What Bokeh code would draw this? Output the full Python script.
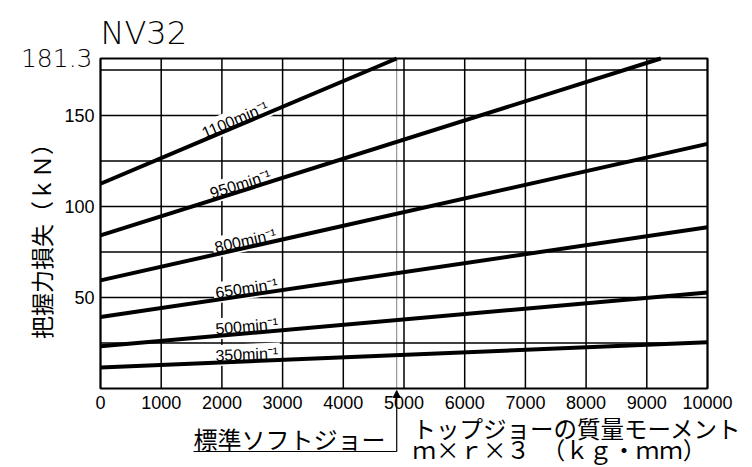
import math
from bokeh.plotting import figure
from bokeh.models import Label, Arrow, NormalHead, FixedTicker, Range1d
from bokeh.embed import file_html
from bokeh.resources import INLINE

# ---- data ----
rpm = [350, 500, 650, 800, 950, 1100]
curve_labels = ["350min⁻¹", "500min⁻¹", "650min⁻¹", "800min⁻¹", "950min⁻¹", "1100min⁻¹"]
x_start = [0, 0, 0, 0, 0, 0]
y_start = [11.6, 23.2, 39.3, 59.4, 84.1, 112.5]
x_end = [10000, 10000, 10000, 10000, 9230, 4880]
y_end = [25.4, 52.7, 88.6, 134.4, 181.3, 181.3]
label_x = [1860, 1860, 1860, 1850, 1780, 1650]

x_ticks = [0, 1000, 2000, 3000, 4000, 5000, 6000, 7000, 8000, 9000, 10000]
y_ticks = [50, 100, 150]
y_grid = [25, 50, 75, 100, 125, 150, 175]
y_max = 181.3
x_max = 10000
std_jaw_x = 4880

title_text = "NV32"
y_max_text = "181.3"
y_label = "把握力損失（ｋＮ）"
x_label_1 = "トップジョーの質量モーメント"
x_label_2 = "ｍ×ｒ×３　（ｋｇ・ｍｍ）"
std_label = "標準ソフトジョー"

# ---- layout (pixels on the canvas) ----
W, H = 752, 467
PL, PR, PT, PB = 100, 707, 58, 388   # plot box edges

x_per_px = x_max / (PR - PL)
y_per_px = y_max / (PB - PT)


def dx(px):
    return (px - PL) * x_per_px


def dy(py):
    return (PB - py) * y_per_px


NUM_FONT = "Liberation Sans"
THIN_FONT = "'DejaVu Sans ExtraLight', 'DejaVu Sans Light', 'DejaVu Sans'"
JP_FONT = "Noto Sans CJK JP"

p = figure(width=W, height=H,
           x_range=Range1d(dx(0), dx(W)), y_range=Range1d(dy(H), dy(0)),
           output_backend="svg", toolbar_location=None, title=None,
           min_border_left=0, min_border_right=0, min_border_top=0, min_border_bottom=0)
p.background_fill_color = "white"
p.border_fill_color = "white"
p.outline_line_color = None

# axes fixed at the plot box edges (labels only)
for ax in (p.xaxis[0], p.yaxis[0]):
    ax.fixed_location = 0
    ax.axis_line_color = None
    ax.major_tick_line_color = None
    ax.minor_tick_line_color = None
    ax.major_label_text_font = NUM_FONT
    ax.major_label_text_font_size = "18px"
    ax.major_label_text_color = "black"
p.xaxis.ticker = FixedTicker(ticks=x_ticks)
p.xaxis.major_label_standoff = 1
p.yaxis.ticker = FixedTicker(ticks=y_ticks)
p.yaxis.major_label_standoff = 0
p.xgrid.visible = False
p.ygrid.visible = False

# grid lines limited to the plot box
p.segment(x0=x_ticks, y0=[0] * len(x_ticks), x1=x_ticks, y1=[y_max] * len(x_ticks),
          line_color="black", line_width=1.5)
p.segment(x0=[0] * len(y_grid), y0=y_grid, x1=[x_max] * len(y_grid), y1=y_grid,
          line_color="black", line_width=1.5)
# plot box
p.quad(left=[0], right=[x_max], bottom=[0], top=[y_max], fill_color=None,
       line_color="black", line_width=2)

# dotted standard-jaw line
p.segment(x0=[std_jaw_x], y0=[0], x1=[std_jaw_x], y1=[y_max],
          line_color="black", line_width=1, line_dash="1 1")

for i in range(len(rpm)):
    r = p.line([x_start[i], x_end[i]], [y_start[i], y_end[i]], line_color="black", line_width=4)
    r.level = "overlay"
    slope = (y_end[i] - y_start[i]) / (x_end[i] - x_start[i])
    ang = math.atan(slope * x_per_px / y_per_px)
    ly = y_start[i] + slope * (label_x[i] - x_start[i])
    p.add_layout(Label(x=label_x[i], y=ly, text=curve_labels[i], angle=ang,
                       text_align="left", text_baseline="alphabetic", y_offset=7, padding=2,
                       text_font=NUM_FONT, text_font_size="16px", text_color="black",
                       background_fill_color="white", background_fill_alpha=1.0))

# texts around the plot box
p.add_layout(Label(x=dx(100), y=dy(32), text=title_text, text_align="left", text_baseline="alphabetic",
                   text_font=THIN_FONT, text_font_size="32px", text_color="black"))
p.add_layout(Label(x=dx(92), y=dy(57), text=y_max_text, text_align="right", text_baseline="middle",
                   text_font=THIN_FONT, text_font_size="25px", text_color="black"))
p.add_layout(Label(x=dx(40), y=dy(235), text=y_label, angle=math.pi / 2, text_align="center",
                   text_baseline="middle", text_font=JP_FONT, text_font_size="23px", text_color="black"))
p.add_layout(Label(x=dx(193), y=dy(438), text=std_label, text_align="left", text_baseline="middle",
                   text_font=JP_FONT, text_font_size="24px", text_color="black"))
p.add_layout(Label(x=dx(412), y=dy(427), text=x_label_1, text_align="left", text_baseline="middle",
                   text_font=JP_FONT, text_font_size="23.5px", text_color="black"))
p.add_layout(Label(x=dx(412), y=dy(448), text=x_label_2, text_align="left", text_baseline="middle",
                   text_font=JP_FONT, text_font_size="23.5px", text_color="black"))

# arrow from the "standard soft jaw" note up to the axis
p.add_layout(Arrow(end=None, x_start=dx(193), y_start=dy(451), x_end=std_jaw_x, y_end=dy(451),
                   line_color="black", line_width=1.2))
p.add_layout(Arrow(end=NormalHead(size=7, fill_color="black", line_color="black"),
                   x_start=std_jaw_x, y_start=dy(451), x_end=std_jaw_x, y_end=dy(390),
                   line_color="black", line_width=1.2))

open("out.html", "w").write(file_html(p, INLINE))
